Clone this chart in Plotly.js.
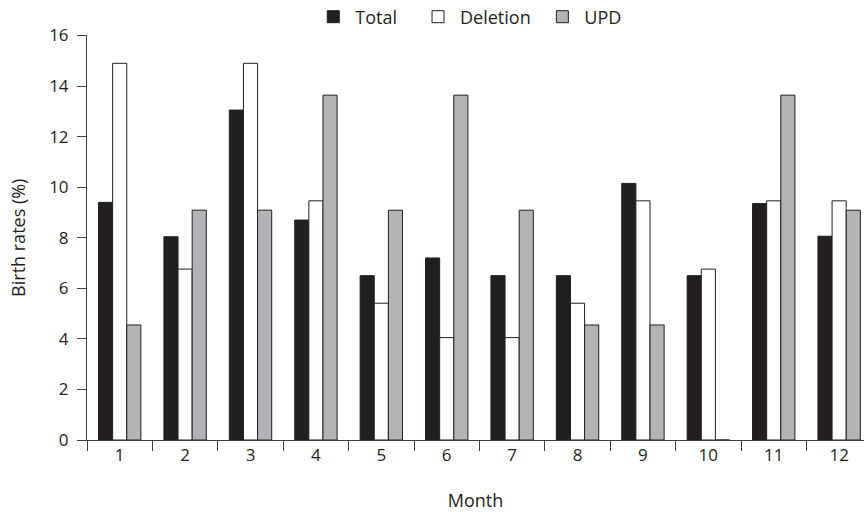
<!DOCTYPE html>
<html>
<head>
<meta charset="utf-8">
<script src="https://cdn.plot.ly/plotly-3.0.1.min.js"></script>
<style>body{margin:0;padding:0;background:#fff}#chart{width:864px;height:515px}</style>
</head>
<body>
<div id="chart"></div>
<script>
const months = ['1','2','3','4','5','6','7','8','9','10','11','12'];
const seriesNames = ['Total', 'Deletion', 'UPD'];
const total = [9.4, 8.04, 13.05, 8.7, 6.5, 7.2, 6.5, 6.5, 10.15, 6.5, 9.35, 8.06];
const deletion = [14.9, 6.76, 14.9, 9.46, 5.41, 4.05, 4.05, 5.41, 9.46, 6.76, 9.46, 9.46];
const upd = [4.55, 9.09, 9.09, 13.64, 9.09, 13.64, 9.09, 4.55, 4.55, 0, 13.64, 9.09];

const font = "'Open Sans', 'Noto Sans', sans-serif";
const ink = '#231f20';
const edge = {color: ink, width: 1};
const traces = [
  {type: 'bar', name: seriesNames[0] + '\u00a0\u00a0\u00a0', x: months, y: total, marker: {color: ink, line: edge}},
  {type: 'bar', name: seriesNames[1] + '\u00a0', x: months, y: deletion, marker: {color: '#ffffff', line: edge}},
  {type: 'bar', name: seriesNames[2], x: months, y: upd, marker: {color: '#b1b3b6', line: edge}}
];
const layout = {
  width: 864, height: 515,
  margin: {l: 87, r: 0, t: 26, b: 75},
  paper_bgcolor: '#fff', plot_bgcolor: '#fff',
  font: {family: font, size: 17, color: ink},
  barmode: 'group', bargap: 0.352, bargroupgap: 0,
  showlegend: true,
  legend: {orientation: 'h', x: 0.492, xanchor: 'center', y: 0.967, yref: 'container', yanchor: 'middle',
           itemwidth: 34,
           font: {family: font, size: 18, color: ink}, traceorder: 'normal'},
  xaxis: {
    type: 'category', range: [-0.5, 11.38], tickson: 'boundaries', ticks: 'outside', ticklen: 10, tickcolor: '#404040',
    showline: true, linecolor: '#404040', linewidth: 1, showgrid: false, zeroline: false,
    tickfont: {family: font, size: 17, color: ink},
    title: {text: 'Month', font: {family: font, size: 18, color: ink}, standoff: 28}
  },
  yaxis: {
    range: [0, 16], tickvals: [0,2,4,6,8,10,12,14,16], ticks: 'outside', ticklen: 9, tickcolor: '#404040',
    showline: true, linecolor: '#404040', linewidth: 1, showgrid: false, zeroline: false,
    ticklabelstandoff: 5,
    tickfont: {family: font, size: 17, color: ink},
    title: {text: 'Birth rates (%)', font: {family: font, size: 18, color: ink}, standoff: 18}
  }
};
Plotly.newPlot('chart', traces, layout, {displayModeBar: false, staticPlot: true});
</script>
</body>
</html>
